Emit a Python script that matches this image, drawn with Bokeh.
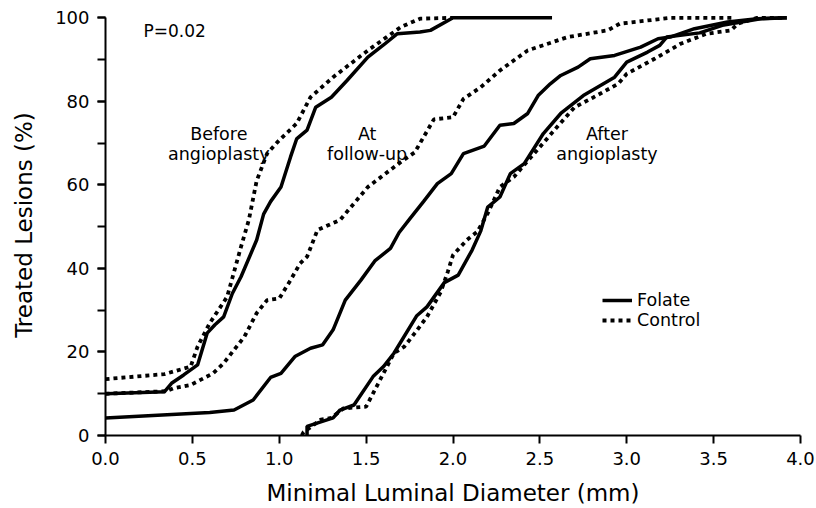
from bokeh.plotting import figure
from bokeh.models import (Range1d, SingleIntervalTicker, PrintfTickFormatter,
                          Legend, LegendItem, ColumnDataSource)
from bokeh.core.properties import value
from bokeh.embed import file_html
from bokeh.resources import INLINE

# ---- data: cumulative distribution of minimal luminal diameter ----
before_folate_x = [0, 0.34, 0.38, 0.45, 0.53, 0.585, 0.63, 0.68, 0.73, 0.78, 0.87, 0.91, 0.95, 1.01,
                   1.065, 1.10, 1.16, 1.21, 1.30, 1.39, 1.51, 1.60, 1.68, 1.81, 1.87, 2.0, 2.57]
before_folate_y = [10, 10.5, 12.5, 14.5, 16.9, 24.5, 26.5, 28.4, 34, 38, 46.8, 53, 56, 59.5,
                   66.7, 71, 73.1, 78.6, 81, 85, 90.6, 93.5, 96.2, 96.6, 97, 100, 100]

before_control_x = [0, 0.34, 0.49, 0.53, 0.60, 0.70, 0.78, 0.825, 0.87, 0.93, 1.0, 1.10, 1.18,
                    1.31, 1.51, 1.70, 1.81, 2.0]
before_control_y = [13.5, 14.7, 16.5, 21.3, 26.9, 33.2, 45.2, 51.6, 61, 67.5, 70.7, 74.7, 81,
                    85.8, 92.2, 97.8, 99.8, 100]

followup_folate_x = [0, 0.60, 0.74, 0.85, 0.95, 1.01, 1.09, 1.18, 1.25, 1.31, 1.38, 1.47, 1.55,
                     1.64, 1.69, 1.75, 1.83, 1.91, 1.99, 2.06, 2.18, 2.27, 2.35, 2.43, 2.49, 2.56,
                     2.62, 2.72, 2.79, 2.93, 3.08, 3.18, 3.25, 3.39, 3.58, 3.75, 3.92]
followup_folate_y = [4.2, 5.5, 6.1, 8.5, 13.9, 14.9, 18.9, 20.9, 21.7, 25.3, 32.4, 37.2, 41.8,
                     44.8, 48.6, 51.8, 56, 60.3, 62.7, 67.5, 69.3, 74.3, 74.7, 77.1, 81.4, 84.2,
                     86.2, 88.2, 90.2, 91, 93, 95, 95.4, 97.4, 99, 99.8, 100]

followup_control_x = [0, 0.35, 0.39, 0.49, 0.62, 0.68, 0.80, 0.87, 0.93, 1.0, 1.065, 1.12, 1.16,
                      1.22, 1.35, 1.51, 1.70, 1.78, 1.89, 2.0, 2.06, 2.16, 2.27, 2.43, 2.66, 2.89,
                      2.96, 3.25, 3.62]
followup_control_y = [10, 10.6, 11.3, 12.1, 14.9, 17.3, 23.7, 29.3, 32.4, 32.8, 37.2, 41.2, 42.8,
                      49.2, 51.6, 59.5, 65.5, 67.8, 75.7, 76.2, 80.6, 83.4, 87.4, 92.2, 95.4, 97,
                      98.6, 100, 100]

after_folate_x = [1.16, 1.16, 1.31, 1.35, 1.43, 1.54, 1.60, 1.66, 1.79, 1.85, 1.95, 2.03, 2.11,
                  2.16, 2.20, 2.27, 2.33, 2.41, 2.52, 2.62, 2.75, 2.93, 3.0, 3.12, 3.19,
                  3.23, 3.42, 3.55, 3.77, 3.92]
after_folate_y = [0, 2.2, 4.2, 6.1, 7.3, 14.1, 16.5, 19.7, 28.6, 30.8, 36.6, 38.4, 44.4,
                  49, 54.7, 57.1, 62.7, 65.1, 72.3, 77.1, 81.4, 85.8, 89.4, 91.8, 93.4,
                  95.4, 96.4, 98.2, 99.8, 100]

after_control_x = [1.13, 1.14, 1.24, 1.30, 1.37, 1.50, 1.54, 1.60, 1.66, 1.72, 1.78, 1.85, 1.93,
                   1.97, 2.0, 2.08, 2.14, 2.20, 2.27, 2.35, 2.50, 2.60, 2.70, 2.81, 2.95, 3.0,
                   3.16, 3.31, 3.46, 3.60, 3.64, 3.75, 3.92]
after_control_y = [0, 0.8, 3.8, 4.2, 6.5, 6.9, 10.1, 14.9, 19.7, 21.3, 24.5, 28.4, 34.4,
                   39.2, 43.2, 46.8, 48.8, 53.2, 59.5, 61.9, 69.1, 73.9, 78.6, 81, 84.2, 86.6,
                   90.2, 93.8, 96.2, 97, 98.6, 100, 100]

group_names = ["Folate", "Control"]
stage_text = ["Before", "angioplasty", "At", "follow-up", "After", "angioplasty"]
p_value_text = "P=0.02"
x_label = "Minimal Luminal Diameter (mm)"
y_label = "Treated Lesions (%)"

FONT = value("DejaVu Sans")

p = figure(width=816, height=508, output_backend="svg", toolbar_location=None,
           x_range=Range1d(0, 4.0), y_range=Range1d(0, 100.8),
           min_border_left=105, min_border_right=16, min_border_top=14, min_border_bottom=72)
p.outline_line_color = None
p.xgrid.grid_line_color = None
p.ygrid.grid_line_color = None
p.background_fill_color = "white"
p.border_fill_color = "white"

for ax in (p.xaxis[0], p.yaxis[0]):
    ax.axis_line_width = 2
    ax.axis_line_color = "black"
    ax.major_tick_line_width = 2
    ax.major_tick_line_color = "black"
    ax.major_tick_out = 8
    ax.major_tick_in = 0
    ax.minor_tick_line_width = 2
    ax.minor_tick_line_color = "black"
    ax.minor_tick_in = 0
    ax.major_label_text_font = "DejaVu Sans"
    ax.major_label_text_font_size = "18px"
    ax.major_label_text_color = "black"
    ax.major_label_standoff = 8
    ax.axis_label_text_font = "DejaVu Sans"
    ax.axis_label_text_font_size = "23px"
    ax.axis_label_text_font_style = "normal"
    ax.axis_label_text_color = "black"

xa = p.xaxis[0]
xa.ticker = SingleIntervalTicker(interval=0.5, num_minor_ticks=0)
xa.formatter = PrintfTickFormatter(format="%.1f")
xa.minor_tick_out = 0
xa.axis_label = x_label
xa.axis_label_standoff = 12

ya = p.yaxis[0]
ya.ticker = SingleIntervalTicker(interval=20, num_minor_ticks=2)
ya.bounds = (0, 100)
ya.minor_tick_out = 8
ya.axis_label = y_label
ya.axis_label_standoff = 15

SOLID_W = 3.5
DOT_W = 3.8
DOT = "4 4"

r_bf = p.line(before_folate_x, before_folate_y, line_color="black", line_width=SOLID_W)
r_bc = p.line(before_control_x, before_control_y, line_color="black", line_width=DOT_W,
              line_dash=DOT)
p.line(followup_folate_x, followup_folate_y, line_color="black", line_width=SOLID_W)
p.line(followup_control_x, followup_control_y, line_color="black", line_width=DOT_W,
       line_dash=DOT)
p.line(after_folate_x, after_folate_y, line_color="black", line_width=SOLID_W)
p.line(after_control_x, after_control_y, line_color="black", line_width=DOT_W, line_dash=DOT)

# stage annotations
ann = ColumnDataSource(dict(
    x=[0.652, 0.652, 1.506, 1.506, 2.886, 2.886],
    y=[72.3, 67.3, 72.3, 67.3, 72.3, 67.3],
    t=stage_text))
p.text(x="x", y="y", text="t", source=ann, text_font=FONT, text_font_size="17.5px",
       text_align="center", text_baseline="alphabetic", text_color="black")

pv = ColumnDataSource(dict(x=[0.219], y=[96.8], t=[p_value_text]))
p.text(x="x", y="y", text="t", source=pv, text_font=FONT, text_font_size="17px",
       text_align="left", text_baseline="alphabetic", text_color="black")

legend = Legend(items=[LegendItem(label=group_names[0], renderers=[r_bf]),
                       LegendItem(label=group_names[1], renderers=[r_bc])],
                location=(497, 105))
legend.border_line_color = None
legend.background_fill_alpha = 0
legend.padding = 0
legend.margin = 0
legend.spacing = 0
legend.glyph_width = 30
legend.glyph_height = 20
legend.label_height = 20
legend.label_standoff = 5
legend.label_text_font = "DejaVu Sans"
legend.label_text_font_size = "17.5px"
legend.label_text_color = "black"
p.add_layout(legend, "center")

open("out.html", "w").write(file_html(p, INLINE))
